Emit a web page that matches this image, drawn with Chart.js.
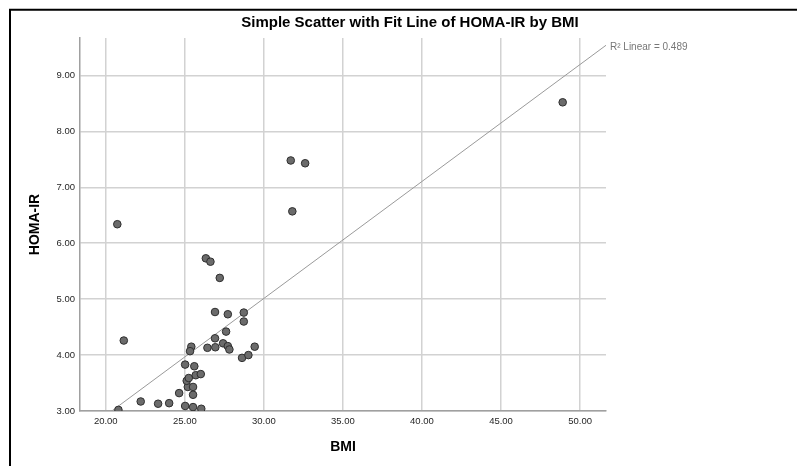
<!DOCTYPE html>
<html>
<head>
<meta charset="utf-8">
<title>HOMA-IR by BMI</title>
<script src="https://cdn.jsdelivr.net/npm/chart.js@4.4.1/dist/chart.umd.min.js"></script>
<style>
  html, body { margin: 0; padding: 0; background: #fff; }
  #wrap { position: relative; width: 797px; height: 466px; }
</style>
</head>
<body>
<div id="wrap"><canvas id="scatterChart"></canvas></div>
<script>
// Values
const bmi = [20.80, 20.73, 21.14, 22.21, 23.31, 24.01, 24.64, 25.02, 25.52, 26.04,
             25.52, 25.19, 25.52, 25.12, 25.25, 25.69, 26.01, 25.02, 25.60, 25.41,
             25.33, 26.43, 26.93, 27.42, 27.72, 27.82, 28.62, 29.02, 29.42, 26.91,
             27.61, 28.73, 26.91, 27.72, 28.73, 27.21, 26.33, 26.62, 31.80, 31.70,
             32.61, 48.90];
const homaIr = [3.02, 6.34, 4.26, 3.17, 3.13, 3.14, 3.32, 3.09, 3.07, 3.04,
                3.29, 3.43, 3.43, 3.54, 3.59, 3.64, 3.66, 3.83, 3.80, 4.15,
                4.07, 4.13, 4.14, 4.21, 4.16, 4.10, 3.95, 4.00, 4.15, 4.30,
                4.42, 4.60, 4.77, 4.73, 4.76, 5.38, 5.73, 5.67, 6.57, 7.48,
                7.43, 8.52];

// fit line end points (linear fit as drawn in the picture)
const fitBmi = [18.37, 51.64];
const fitHoma = [2.58, 9.54];
const rSquared = 0.489;

const xTicks = [20, 25, 30, 35, 40, 45, 50];
const yTicks = [3, 4, 5, 6, 7, 8, 9];
const xRange = [18.37, 51.64];
const yRange = [3, 9.67];

const FONT = 'Arial, "Liberation Sans", sans-serif';

// frame, title and R² note drawn on top of the chart
const spssDecor = {
  id: 'spssDecor',
  afterDraw(chart) {
    const ctx = chart.ctx;
    const area = chart.chartArea;
    ctx.save();

    ctx.strokeStyle = '#000';
    ctx.lineWidth = 2;
    ctx.beginPath();
    ctx.moveTo(10, chart.height);
    ctx.lineTo(10, 9.7);
    ctx.lineTo(chart.width, 9.7);
    ctx.stroke();

    ctx.fillStyle = '#000';
    ctx.font = 'bold 15px ' + FONT;
    ctx.textAlign = 'center';
    ctx.textBaseline = 'middle';
    ctx.fillText('Simple Scatter with Fit Line of HOMA-IR by BMI', 410, 23);

    const yEnd = chart.scales.y.getPixelForValue(fitHoma[1]);
    ctx.font = '10px ' + FONT;
    ctx.fillStyle = '#777';
    ctx.textAlign = 'left';
    ctx.fillText('R\u00B2 Linear = ' + rSquared.toFixed(3), area.right + 4, yEnd + 2);

    ctx.restore();
  }
};

const ctx = document.getElementById('scatterChart').getContext('2d');

new Chart(ctx, {
  type: 'scatter',
  data: {
    datasets: [
      {
        label: 'HOMA-IR',
        data: bmi.map((b, i) => ({ x: b, y: homaIr[i] })),
        pointRadius: 3.8,
        pointBackgroundColor: '#6b6b6b',
        pointBorderColor: '#2e2e2e',
        pointBorderWidth: 1
      },
      {
        type: 'line',
        label: 'Fit',
        data: fitBmi.map((b, i) => ({ x: b, y: fitHoma[i] })),
        borderColor: '#9a9a9a',
        borderWidth: 1,
        pointRadius: 0,
        fill: false
      }
    ]
  },
  options: {
    responsive: true,
    maintainAspectRatio: false,
    animation: false,
    layout: {
      padding: { left: 10, right: 191, top: 38, bottom: 0 }
    },
    scales: {
      x: {
        type: 'linear',
        min: xRange[0],
        max: xRange[1],
        afterBuildTicks: scale => { scale.ticks = xTicks.map(v => ({ value: v })); },
        afterFit: scale => { scale.height = 55; },
        ticks: {
          padding: 5,
          color: '#262626',
          font: { family: FONT, size: 9.5 },
          callback: v => v.toFixed(2)
        },
        grid: { color: '#d2d2d2', lineWidth: 1.5, drawTicks: false },
        border: { display: true, color: '#a0a0a0', width: 1.5 },
        title: {
          display: true,
          text: 'BMI',
          color: '#000',
          font: { family: FONT, size: 14, weight: 'bold' },
          padding: { top: 0, bottom: 10.6 }
        }
      },
      y: {
        type: 'linear',
        min: yRange[0],
        max: yRange[1],
        afterBuildTicks: scale => { scale.ticks = yTicks.map(v => ({ value: v })); },
        afterFit: scale => { scale.width = 70; },
        ticks: {
          padding: 5,
          color: '#262626',
          font: { family: FONT, size: 9.5 },
          callback: v => v.toFixed(2)
        },
        grid: { color: '#d2d2d2', lineWidth: 1.5, drawTicks: false },
        border: { display: true, color: '#a0a0a0', width: 1.5 },
        title: {
          display: true,
          text: 'HOMA-IR',
          color: '#000',
          font: { family: FONT, size: 14, weight: 'bold' },
          padding: { top: 16.6, bottom: 0 }
        }
      }
    },
    plugins: {
      legend: { display: false },
      tooltip: { enabled: false },
      title: { display: false }
    }
  },
  plugins: [spssDecor]
});
</script>
</body>
</html>
